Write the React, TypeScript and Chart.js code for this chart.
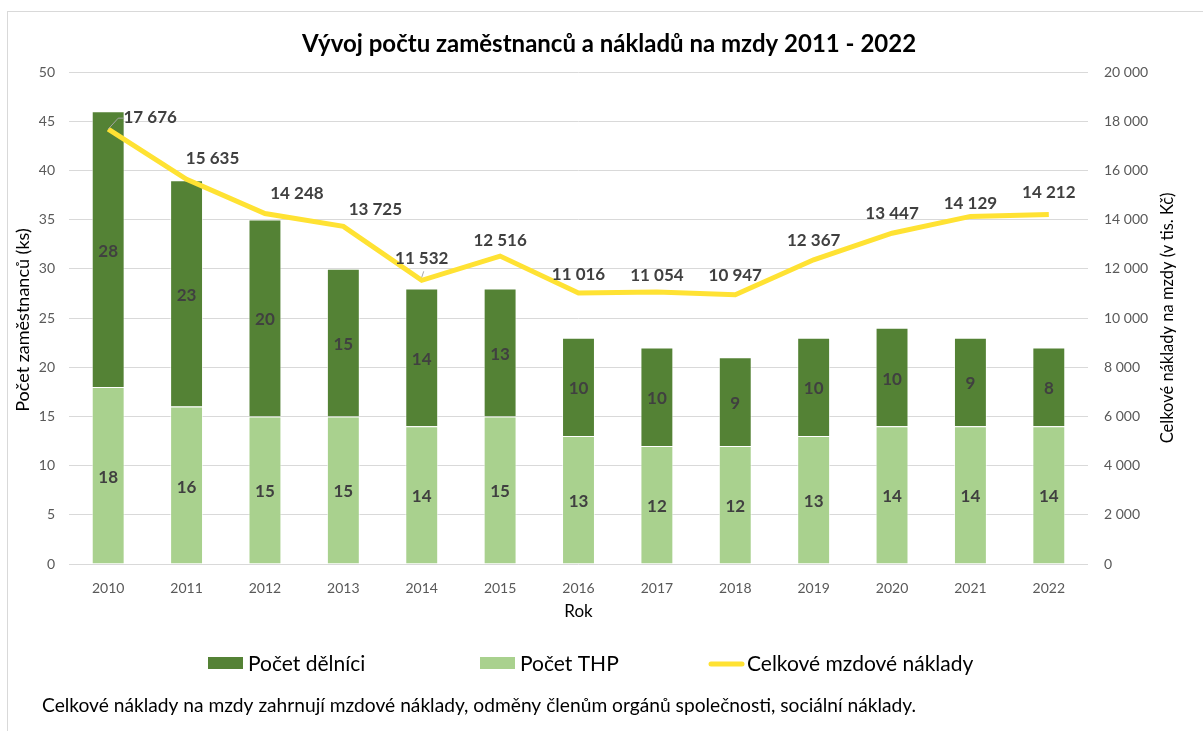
import React, { useEffect, useRef } from "react";
import { Chart, registerables } from "chart.js";

Chart.register(...registerables);

const years = ["2010", "2011", "2012", "2013", "2014", "2015", "2016", "2017", "2018", "2019", "2020", "2021", "2022"];
const pocetTHP = [18, 16, 15, 15, 14, 15, 13, 12, 12, 13, 14, 14, 14];
const pocetDelnici = [28, 23, 20, 15, 14, 13, 10, 10, 9, 10, 10, 9, 8];
const mzdoveNaklady = [17676, 15635, 14248, 13725, 11532, 12516, 11016, 11054, 10947, 12367, 13447, 14129, 14212];

const chartTitle = "Vývoj počtu zaměstnanců a nákladů na mzdy 2011 - 2022";
const leftAxisTitle = "Počet zaměstnanců (ks)";
const rightAxisTitle = "Celkové náklady na mzdy (v tis. Kč)";
const xAxisTitle = "Rok";
const legendDelnici = "Počet dělníci";
const legendTHP = "Počet THP";
const legendNaklady = "Celkové mzdové náklady";
const footnote = "Celkové náklady na mzdy zahrnují mzdové náklady, odměny členům orgánů společnosti, sociální náklady.";

// label placement offsets (layout only)
const lineLabelOffsets: [number, number][] = [
  [42, -12], [26, -21], [32, -20], [32, -17], [0, -22], [0, -16], [0, -18],
  [0, -17], [0, -19], [0, -19], [0, -20], [0, -13], [0, -22],
];

const FONT = "Lato, 'Open Sans', sans-serif";
const DARK = "#548235";
const LIGHT = "#A9D18E";
const YELLOW = "#FFE233";

const fmt = (v: number) => String(v).replace(/\B(?=(\d{3})+(?!\d))/g, " ");

const decorPlugin = {
  id: "decor",
  afterDraw(chart: any) {
    const ctx = chart.ctx as CanvasRenderingContext2D;
    const area = chart.chartArea;
    ctx.save();
    // outer border
    ctx.strokeStyle = "#d9d9d9";
    ctx.lineWidth = 1;
    ctx.strokeRect(7.5, 11.5, 1300, 800);

    // title
    ctx.fillStyle = "#000";
    ctx.font = `bold 24px ${FONT}`;
    ctx.textAlign = "center";
    ctx.textBaseline = "middle";
    ctx.fillText(chartTitle, 609, 44);

    // axis titles
    ctx.fillStyle = "#000";
    ctx.save();
    ctx.font = `18px ${FONT}`;
    ctx.translate(23, 320);
    ctx.rotate(-Math.PI / 2);
    ctx.fillText(leftAxisTitle, 0, 0);
    ctx.restore();
    ctx.save();
    ctx.font = `16.5px ${FONT}`;
    ctx.translate(1168, 318);
    ctx.rotate(-Math.PI / 2);
    ctx.fillText(rightAxisTitle, 0, 0);
    ctx.restore();
    ctx.font = `17px ${FONT}`;
    ctx.fillText(xAxisTitle, (area.left + area.right) / 2, 612);

    // bar labels
    ctx.font = `bold 17px ${FONT}`;
    ctx.fillStyle = "#404040";
    [0, 1].forEach((di) => {
      const meta = chart.getDatasetMeta(di);
      const data = chart.data.datasets[di].data as number[];
      meta.data.forEach((el: any, i: number) => {
        const cy = (el.y + el.base) / 2;
        ctx.fillText(String(data[i]), el.x, cy + 2);
      });
    });

    // line labels
    const lmeta = chart.getDatasetMeta(2);
    lmeta.data.forEach((el: any, i: number) => {
      const [dx, dy] = lineLabelOffsets[i];
      ctx.fillText(fmt(mzdoveNaklady[i]), el.x + dx, el.y + dy);
    });
    // leader lines
    ctx.strokeStyle = "#a6a6a6";
    ctx.lineWidth = 1;
    const p0 = lmeta.data[0];
    ctx.beginPath();
    ctx.moveTo(p0.x, p0.y);
    ctx.lineTo(p0.x + 10, p0.y - 11);
    ctx.lineTo(p0.x + 16, p0.y - 11);
    ctx.stroke();
    const p4 = lmeta.data[4];
    ctx.beginPath();
    ctx.moveTo(p4.x, p4.y - 3);
    ctx.lineTo(p4.x + 2, p4.y - 9);
    ctx.stroke();

    // legend
    ctx.textAlign = "left";
    ctx.fillStyle = DARK;
    ctx.fillRect(208, 657, 35, 12);
    ctx.fillStyle = LIGHT;
    ctx.fillRect(480, 657, 35, 12);
    ctx.strokeStyle = YELLOW;
    ctx.lineWidth = 5;
    ctx.lineCap = "round";
    ctx.beginPath();
    ctx.moveTo(711, 664);
    ctx.lineTo(742, 664);
    ctx.stroke();
    ctx.fillStyle = "#000";
    ctx.font = `21px ${FONT}`;
    ctx.fillText(legendDelnici, 248, 664);
    ctx.fillText(legendTHP, 520, 664);
    ctx.fillText(legendNaklady, 747, 664);

    // footnote
    ctx.font = `19.2px ${FONT}`;
    ctx.fillText(footnote, 42, 706);
    ctx.restore();
  },
};

export default function App() {
  const ref = useRef<HTMLCanvasElement>(null);
  useEffect(() => {
    if (!ref.current) return;
    const chart = new Chart(ref.current, {
      type: "bar",
      data: {
        labels: years,
        datasets: [
          {
            type: "bar",
            label: legendTHP,
            data: pocetTHP,
            backgroundColor: LIGHT,
            borderColor: "rgba(255,255,255,0.6)",
            borderWidth: 1,
            stack: "s",
            yAxisID: "y",
            order: 1,
            categoryPercentage: 1,
            barPercentage: 0.42,
          },
          {
            type: "bar",
            label: legendDelnici,
            data: pocetDelnici,
            backgroundColor: DARK,
            borderColor: "rgba(255,255,255,0.6)",
            borderWidth: 1,
            stack: "s",
            yAxisID: "y",
            order: 1,
            categoryPercentage: 1,
            barPercentage: 0.42,
          },
          {
            type: "line",
            label: legendNaklady,
            data: mzdoveNaklady,
            borderColor: YELLOW,
            backgroundColor: YELLOW,
            borderWidth: 5,
            pointRadius: 0,
            tension: 0,
            yAxisID: "y1",
            order: 0,
          } as any,
        ],
      },
      options: {
        responsive: false,
        animation: false,
        devicePixelRatio: 1,
        layout: { padding: { top: 72, left: 0, right: 0, bottom: 0 } },
        plugins: {
          legend: { display: false },
          title: { display: false },
          tooltip: { enabled: false },
        },
        scales: {
          x: {
            stacked: true,
            grid: { display: false },
            border: { display: false },
            ticks: { color: "#595959", font: { family: FONT, size: 14 }, padding: 8 },
            afterFit: (s: any) => { s.height = 731 - 564; },
          },
          y: {
            stacked: true,
            position: "left",
            min: 0,
            max: 50,
            ticks: { stepSize: 5, color: "#595959", font: { family: FONT, size: 14 }, padding: 14 },
            grid: { color: "#d9d9d9", drawTicks: false },
            border: { display: false },
            afterFit: (s: any) => { s.width = 69; },
          },
          y1: {
            position: "right",
            min: 0,
            max: 20000,
            ticks: {
              stepSize: 2000,
              color: "#595959",
              font: { family: FONT, size: 14 },
              padding: 16,
              callback: (v: any) => fmt(Number(v)),
            },
            grid: { display: false, drawTicks: false },
            border: { display: false },
            afterFit: (s: any) => { s.width = 1203 - 1088; },
          },
        },
      },
      plugins: [decorPlugin],
    });
    return () => chart.destroy();
  }, []);
  return (
    <div style={{ position: "fixed", left: 0, top: 0, width: 1203, height: 731, background: "#fff" }}>
      <canvas ref={ref} width={1203} height={731} style={{ display: "block" }} />
    </div>
  );
}
